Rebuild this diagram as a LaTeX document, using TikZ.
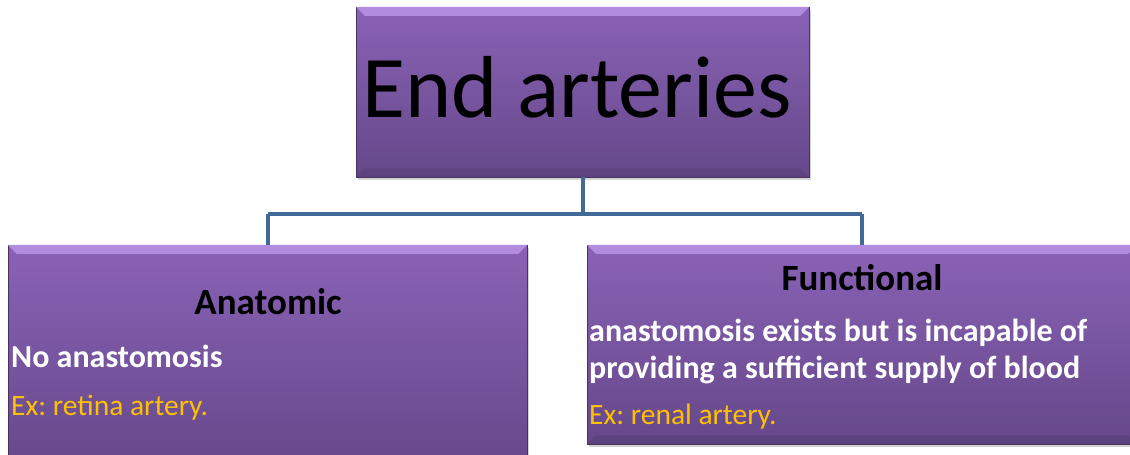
\documentclass[tikz,border=0pt]{standalone}
\usepackage{fontspec}
\setmainfont{Carlito}
\frenchspacing
\usetikzlibrary{shadows}
\usetikzlibrary{calc}
\definecolor{boxtop}{RGB}{138,98,182}
\definecolor{boxbot}{RGB}{101,72,138}
\definecolor{boxlight}{RGB}{178,140,222}
\definecolor{linkblue}{RGB}{66,106,150}
\definecolor{exorange}{RGB}{255,192,0}
\tikzset{
  purplebox/.style={draw=boxbot!70!black, line width=0.5pt, top color=boxtop,
    bottom color=boxbot, inner sep=0pt,
    drop shadow={opacity=0.35, shadow xshift=2pt, shadow yshift=-3pt}},
  link/.style={draw=linkblue, line width=4pt},
  head/.style={inner sep=0pt, font=\fontsize{37}{40}\selectfont\bfseries},
  body/.style={inner sep=0pt, text=white, font=\fontsize{32}{36}\selectfont\bfseries},
  extext/.style={inner sep=0pt, text=exorange, font=\fontsize{29.5}{33}\selectfont},
}
\newcommand{\bevel}[1]{%
  \fill[boxlight] (#1.north west) -- (#1.north east) -- ++(-9,9)
    -- ($(#1.north west)+(9,9)$) -- cycle;
  \fill[boxbot!80!black, opacity=0.4] (#1.south west) -- (#1.south east)
    -- ++(-9,-9) -- ($(#1.south west)+(9,-9)$) -- cycle;}

\begin{document}
\begin{tikzpicture}[x=1pt, y=-1pt]
  \useasboundingbox (0,0) rectangle (1130,455);
  % boxes
  \node[purplebox, minimum width=453pt, minimum height=170pt] (endart) at (582.5,92) {};
  \node[purplebox, minimum width=519pt, minimum height=225pt] (anatomic) at (267.5,357.5) {};
  \node[purplebox, minimum width=550pt, minimum height=199pt] (functional) at (862,344.5) {};
  \bevel{endart}
  \bevel{anatomic}
  \bevel{functional}
  % connectors
  \coordinate (fork) at (583,214);
  \draw[link] (endart.south -| fork) -- (fork);
  \draw[link] (fork -| anatomic.north) -- (fork -| functional.north);
  \draw[link] (fork -| anatomic.north) -- (anatomic.north);
  \draw[link] (fork -| functional.north) -- (functional.north);
  % texts
  \node[inner sep=0pt, anchor=base, font=\fontsize{88}{96}\selectfont] (title) at (577,117) {End arteries};
  \node[head, anchor=base] (anahead) at (268,314) {Anatomic};
  \node[body, anchor=base west] (anatext) at (11,367) {No anastomosis};
  \node[extext, anchor=base west] (anaex) at (11,415) {Ex: retina artery.};
  \node[head, anchor=base] (funhead) at (862,290) {Functional};
  \node[body, anchor=base west] (funtext) at (589,341) {anastomosis exists but is incapable of};
  \node[body, anchor=base west] (funtextb) at (589,378) {providing a sufficient supply of blood};
  \node[extext, anchor=base west] (funex) at (589,424) {Ex: renal artery.};
\end{tikzpicture}
\end{document}
